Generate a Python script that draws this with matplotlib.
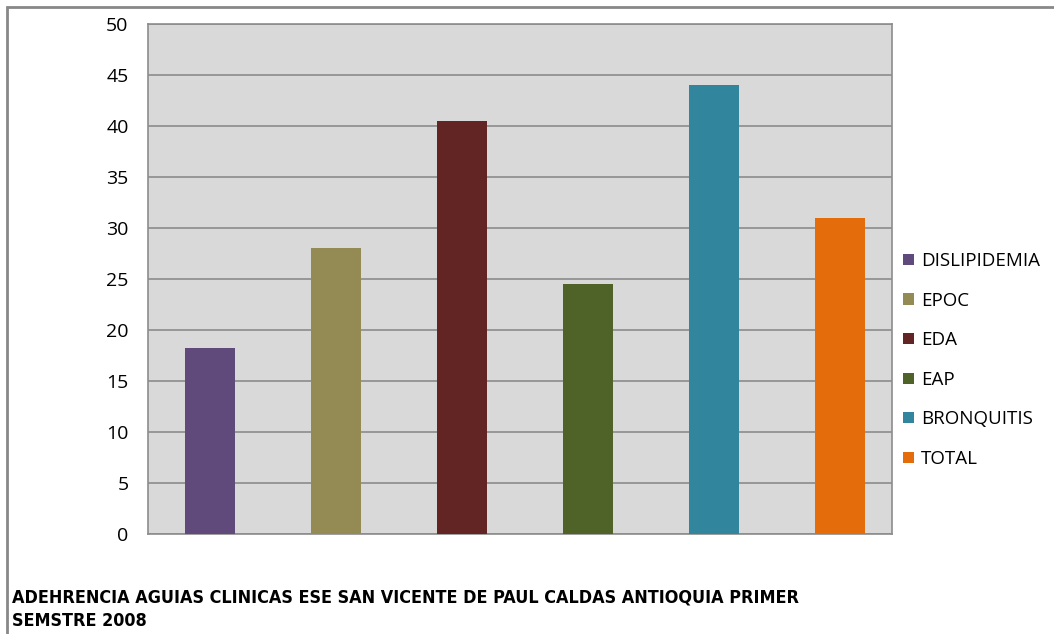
import matplotlib.pyplot as plt
from matplotlib.patches import Rectangle

categories = ["DISLIPIDEMIA", "EPOC", "EDA", "EAP", "BRONQUITIS", "TOTAL"]
values = [18.2, 28.0, 40.5, 24.5, 44.0, 31.0]
colors = ["#604a7b", "#948a54", "#632523", "#4f6228", "#31859c", "#e46c0a"]
yticks = [0, 5, 10, 15, 20, 25, 30, 35, 40, 45, 50]
title = "ADEHRENCIA AGUIAS CLINICAS ESE SAN VICENTE DE PAUL CALDAS ANTIOQUIA PRIMER\nSEMSTRE 2008"

plt.rcParams["font.family"] = ["Open Sans", "DejaVu Sans"]

fig = plt.figure(figsize=(10.54, 6.34), dpi=100)
W, H = 1054, 634
ax = fig.add_axes([148 / W, 1 - 534 / H, (892 - 148) / W, (534 - 24) / H])

# outer chart border
fig.patches.append(Rectangle((7 / W, -0.1), 1.2, 1 - 7 / H + 0.1, transform=fig.transFigure,
                             fill=False, edgecolor="#888888", linewidth=2))

ax.set_facecolor("#d9d9d9")
for i, (cat, val, col) in enumerate(zip(categories, values, colors)):
    ax.bar(i, val, width=0.4, color=col, label=cat, zorder=3)

ax.set_xlim(-0.492, 5.413)
ax.set_ylim(0, 50)
ax.set_yticks(yticks)
ax.set_xticks([])
ax.yaxis.grid(True, color="#8c8c8c", linewidth=1.2, zorder=1)
ax.tick_params(axis="y", length=0, pad=14, labelsize=14, colors="#000000")
for s in ax.spines.values():
    s.set_color("#8c8c8c")
    s.set_linewidth(1.2)

leg = ax.legend(loc="center left", bbox_to_anchor=(0.995, 0.341), frameon=False,
                fontsize=13.5, handlelength=0.55, handleheight=0.55,
                handletextpad=0.4, labelspacing=1.15, borderaxespad=0.4)

fig.text(12 / W, 1 - 609 / H, title, fontsize=12.9, fontweight="bold",
         family=["DejaVu Sans"], stretch="condensed",
         ha="left", va="center", linespacing=1.4)

fig.savefig("out.png", dpi=100)
